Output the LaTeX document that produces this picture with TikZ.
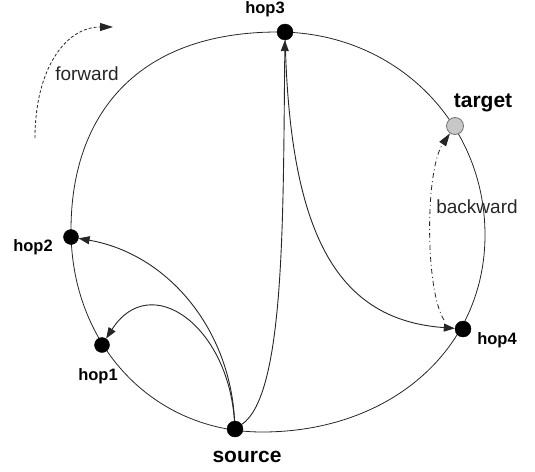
\documentclass[tikz,border=0pt]{standalone}
\usepackage{fontspec}
\setmainfont{Liberation Sans}
\usetikzlibrary{arrows.meta}
\begin{document}
\begin{tikzpicture}[x=1pt,y=-1pt,
  hopnode/.style={circle, fill=black, draw=black, inner sep=0pt, minimum size=16pt},
  tgtnode/.style={circle, fill=black!22, draw=black!55, line width=0.8pt, inner sep=0pt, minimum size=17pt},
  hoplbl/.style={font=\bfseries\fontsize{16.5}{18}\selectfont, inner sep=0pt, anchor=base},
  biglbl/.style={font=\bfseries\fontsize{21}{24}\selectfont, inner sep=0pt, anchor=base},
  dirlbl/.style={font=\fontsize{19}{22}\selectfont, text=black!85, inner sep=0pt, anchor=base},
  ring/.style={draw=black!85, line width=0.8pt},
  link/.style={draw=black!85, line width=0.9pt, -{Triangle[length=11pt,width=8pt]}},
  fwd/.style={draw=black!85, line width=0.8pt, dash pattern=on 3pt off 2pt, -{Triangle[length=13pt,width=8pt]}},
  bwd/.style={draw=black!85, line width=0.8pt, dash pattern=on 5pt off 3pt on 1pt off 3pt, -{Triangle[length=13pt,width=8pt]}}]
\useasboundingbox (0,0) rectangle (535,471);
% ring
\draw[ring] (278,32) .. controls (394,32) and (485,121) .. (485,235)
  .. controls (485,349) and (391,432) .. (262,432)
  .. controls (153,432) and (71,345) .. (71,230)
  .. controls (71,115) and (137,32) .. cycle;
% nodes
\node[hopnode] (hop3) at (285,32) {};
\node[tgtnode] (target) at (455,126) {};
\node[hopnode] (hop4) at (463,329) {};
\node[hopnode] (source) at (235,429) {};
\node[hopnode, minimum size=15pt] (hop1) at (102,345) {};
\node[hopnode, minimum size=15pt] (hop2) at (71,237) {};
% labels
\node[hoplbl] (l3) at (265,13) {hop3};
\node[hoplbl] (l2) at (33,251) {hop2};
\node[hoplbl] (l1) at (98,380) {hop1};
\node[hoplbl] (l4) at (497,344) {hop4};
\node[biglbl] (lt) at (483,107) {target};
\node[biglbl] (ls) at (247,462) {source};
\node[dirlbl] (lf) at (87,80) {forward};
\node[dirlbl] (lb) at (477,213) {backward};
% links
\draw[link] (source) .. controls (285,395) and (283,220) .. (hop3);
\draw[link] (hop3) .. controls (290,240) and (340,320) .. (hop4);
\draw[link] (source) .. controls (230,329) and (168,254) .. (hop2);
\draw[link] (source) .. controls (228,325) and (150,270) .. (hop1);
% direction hints
\coordinate (fs) at (35,138);
\coordinate (fe) at (113,27);
\draw[fwd] (fs) .. controls (35,70) and (65,27) .. (fe);
\coordinate (bs) at (444,320);
\draw[bwd] (bs) .. controls (425,290) and (425,170) .. (target);
\end{tikzpicture}
\end{document}
